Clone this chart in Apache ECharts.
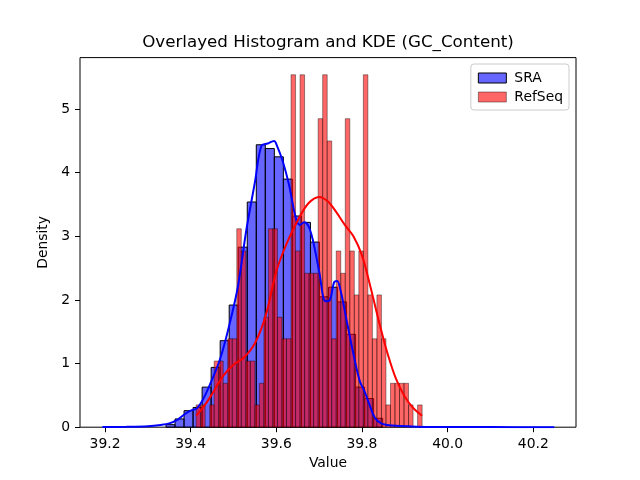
<!DOCTYPE html>
<html>
<head>
<meta charset="utf-8">
<script src="https://cdn.jsdelivr.net/npm/echarts@6/dist/echarts.min.js"></script>
<style>
html,body{margin:0;padding:0;background:#fff;}
#chart{width:640px;height:480px;}
</style>
</head>
<body>
<div id="chart"></div>
<script>
// ---- Data ----
var titleText = 'Overlayed Histogram and KDE (GC_Content)';
var xTicks = [39.2, 39.4, 39.6, 39.8, 40.0, 40.2];
var yTicks = [0, 1, 2, 3, 4, 5];

// SRA histogram (density), bins start + width
var sraBinStart = 39.3424;
var sraBinWidth = 0.02108;
var sraDensity = [0.04, 0.13, 0.26, 0.31, 0.63, 0.94, 1.36, 1.92, 2.83, 3.54, 4.44, 4.38,
                  4.25, 3.90, 3.32, 3.22, 2.91, 2.05, 2.20, 1.97, 1.46, 0.63, 0.45, 0.14];

// RefSeq histogram (density)
var refBinStart = 39.4127;
var refBinWidth = 0.010554;
var refDensity = [0.35, 0.35, 0, 0.35, 1.04, 1.04, 0.69, 1.39, 1.39, 3.12,
                  2.77, 1.04, 1.04, 0.35, 0.69, 1.73, 3.12, 3.12, 1.73, 1.39,
                  1.39, 5.54, 2.77, 5.54, 2.42, 2.42, 2.42, 4.85, 5.54, 4.50,
                  1.39, 2.77, 2.42, 4.85, 2.77, 2.08, 2.77, 5.54, 2.08, 1.39,
                  2.08, 1.39, 0.35, 0.69, 0.69, 0.69, 0.69, 0.35, 0, 0.35];

// KDE curves [value, density]
var sraKdeX = [39.194, 39.25, 39.30, 39.33, 39.35, 39.37, 39.385, 39.40, 39.415, 39.43,
               39.45, 39.47, 39.49, 39.51, 39.53, 39.55, 39.565, 39.58, 39.595, 39.60,
               39.615, 39.63, 39.645, 39.655, 39.665, 39.675, 39.685, 39.70, 39.715, 39.725,
               39.735, 39.742, 39.75, 39.765, 39.78, 39.795, 39.805, 39.815, 39.83, 39.845,
               39.87, 39.95, 40.10, 40.249];
var sraKdeY = [0.003, 0.006, 0.015, 0.035, 0.06, 0.12, 0.20, 0.26, 0.30, 0.45,
               0.75, 1.10, 1.60, 2.20, 3.10, 3.85, 4.42, 4.46, 4.50, 4.45,
               4.18, 3.80, 3.30, 3.18, 3.22, 3.16, 2.95, 2.45, 1.98, 2.00,
               2.28, 2.30, 2.15, 1.65, 1.15, 0.72, 0.58, 0.40, 0.15, 0.06,
               0.025, 0.005, 0.002, 0.0];
var refKdeX = [39.4127, 39.43, 39.45, 39.475, 39.50, 39.525, 39.55, 39.575, 39.60, 39.625,
               39.65, 39.675, 39.70, 39.72, 39.74, 39.76, 39.78, 39.80, 39.82, 39.84,
               39.86, 39.88, 39.90, 39.92, 39.9404];
var refKdeY = [0.18, 0.32, 0.52, 0.80, 0.98, 1.10, 1.32, 1.75, 2.45, 2.90,
               3.25, 3.52, 3.62, 3.55, 3.38, 3.18, 3.00, 2.70, 2.20, 1.65,
               1.15, 0.75, 0.48, 0.30, 0.18];

// ---- Build ----
function histData(start, width, dens) {
  var out = [];
  for (var i = 0; i < dens.length; i++) {
    out.push([start + i * width, start + (i + 1) * width, dens[i]]);
  }
  return out;
}
function pairs(xs, ys) {
  var out = [];
  for (var i = 0; i < xs.length; i++) out.push([xs[i], ys[i]]);
  return out;
}
function makeRender(fill, stroke, lw) {
  return function (params, api) {
    var h = api.value(2);
    if (!(h > 0)) return null;
    var p0 = api.coord([api.value(0), h]);
    var p1 = api.coord([api.value(1), 0]);
    return {
      type: 'rect',
      shape: { x: p0[0], y: p0[1], width: p1[0] - p0[0], height: p1[1] - p0[1] },
      style: { fill: fill, stroke: stroke, lineWidth: lw }
    };
  };
}

var FONT = 'DejaVu Sans';
var sraFill = 'rgba(0,0,255,0.6)', sraEdge = '#000000';
var refFill = 'rgba(255,0,0,0.6)', refEdge = 'rgba(0,0,0,0.4)';

var chart = echarts.init(document.getElementById('chart'), null, { renderer: 'canvas' });
chart.setOption({
  animation: false,
  backgroundColor: '#ffffff',
  grid: { left: 80, right: 64, top: 57.6, bottom: 52.8, show: true, borderColor: '#000', borderWidth: 1, backgroundColor: 'transparent' },
  graphic: [{
    type: 'text', x: 328, y: 43, z: 10,
    style: { text: titleText, fill: '#000', font: '16.7px "DejaVu Sans"', textAlign: 'center', textVerticalAlign: 'middle' }
  }],
  legend: {
    orient: 'vertical', right: 71, top: 64, icon: 'rect',
    itemWidth: 28, itemHeight: 10, itemGap: 5,
    backgroundColor: 'rgba(255,255,255,0.8)', borderColor: '#cccccc', borderWidth: 1, borderRadius: 3,
    padding: [7, 6, 6, 7],
    textStyle: { fontFamily: FONT, fontSize: 13.9, color: '#000', padding: [0, 0, 0, 3] },
    data: [
      { name: 'SRA', itemStyle: { color: sraFill, borderColor: sraEdge, borderWidth: 1 } },
      { name: 'RefSeq', itemStyle: { color: refFill, borderColor: refEdge, borderWidth: 1 } }
    ]
  },
  xAxis: {
    type: 'value', min: 39.1416, max: 40.2997,
    name: 'Value', nameLocation: 'middle', nameGap: 28,
    nameTextStyle: { fontFamily: FONT, fontSize: 13.9, color: '#000' },
    axisLine: { show: false },
    axisTick: { show: true, length: 5, lineStyle: { color: '#000', width: 1 }, customValues: xTicks },
    axisLabel: { fontFamily: FONT, fontSize: 13.9, color: '#000', margin: 10, customValues: xTicks,
                 formatter: function (v) { return v.toFixed(1); } },
    splitLine: { show: false }
  },
  yAxis: {
    type: 'value', min: 0, max: 5.81,
    name: 'Density', nameLocation: 'middle', nameGap: 25,
    nameTextStyle: { fontFamily: FONT, fontSize: 13.9, color: '#000' },
    axisLine: { show: false },
    axisTick: { show: true, length: 5, lineStyle: { color: '#000', width: 1 }, customValues: yTicks },
    axisLabel: { fontFamily: FONT, fontSize: 13.9, color: '#000', margin: 10, customValues: yTicks,
                 formatter: function (v) { return String(Math.round(v)); } },
    splitLine: { show: false }
  },
  series: [
    { name: 'SRA', type: 'custom', renderItem: makeRender(sraFill, sraEdge, 1),
      itemStyle: { color: sraFill }, encode: { x: [0, 1], y: 2 },
      data: histData(sraBinStart, sraBinWidth, sraDensity), z: 2 },
    { name: 'RefSeq', type: 'custom', renderItem: makeRender(refFill, refEdge, 1),
      itemStyle: { color: refFill }, encode: { x: [0, 1], y: 2 },
      data: histData(refBinStart, refBinWidth, refDensity), z: 3 },
    { name: 'SRA KDE', type: 'line', data: pairs(sraKdeX, sraKdeY), smooth: 0.35,
      showSymbol: false, lineStyle: { color: '#0000ff', width: 2 }, itemStyle: { color: '#0000ff' }, z: 4 },
    { name: 'RefSeq KDE', type: 'line', data: pairs(refKdeX, refKdeY), smooth: 0.35,
      showSymbol: false, lineStyle: { color: '#ff0000', width: 2 }, itemStyle: { color: '#ff0000' }, z: 5 }
  ]
});
</script>
</body>
</html>
